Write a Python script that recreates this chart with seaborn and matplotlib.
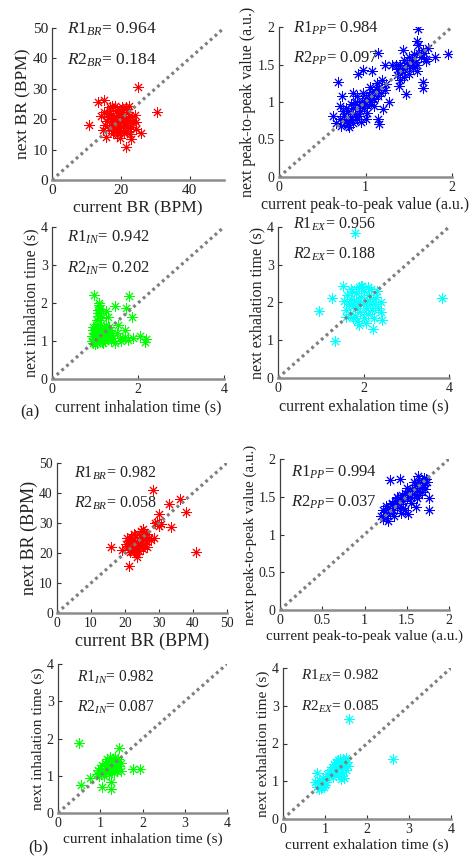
import matplotlib
matplotlib.use("Agg")
import matplotlib.pyplot as plt
import seaborn as sns

# ---------------- data: current vs next breath parameters ----------------
# (a) breathing rate
br_a_current = [10.8, 25.0, 30.4, 21.4, 26.0, 15.8, 13.4, 15.1, 14.1, 23.1, 24.3, 21.6,
                16.0, 16.5, 17.2, 17.8, 18.3, 18.9, 19.4, 19.9, 20.4, 21.0, 21.6, 22.3, 23.0,
                16.8, 17.5, 18.1, 18.7, 19.2, 19.8, 20.3, 20.8, 21.4, 22.0, 22.6, 15.5, 16.2,
                17.0, 17.7, 18.4, 19.0, 19.6, 20.2, 20.9, 21.5, 22.2, 23.4, 16.6, 18.0, 19.3,
                20.6, 21.9, 17.3, 18.8, 20.0, 21.2, 22.8, 24.0, 15.2, 19.0, 20.5, 17.6, 23.6,
                14.8, 22.5, 19.7, 24.5]
br_a_next = [18.1, 30.5, 22.5, 11.0, 15.4, 14.3, 25.5, 26.4, 21.2, 13.4, 16.7, 24.0,
             19.5, 22.0, 17.0, 21.5, 18.5, 23.0, 16.5, 20.0, 22.5, 15.5, 19.0, 21.0, 17.5,
             24.0, 19.0, 16.0, 20.5, 22.0, 18.0, 24.0, 17.0, 20.5, 22.5, 19.5, 18.0, 20.8,
             22.8, 15.5, 24.5, 18.8, 21.2, 15.8, 19.8, 23.2, 17.8, 20.8, 17.0, 20.0, 19.5,
             21.0, 16.2, 24.2, 14.8, 23.0, 18.2, 15.2, 21.5, 22.5, 17.2, 19.0, 18.2, 18.6,
             16.5, 24.2, 13.8, 19.0]

# (a) peak-to-peak value
pp_a_current = [1.61, 1.60, 1.61, 1.95, 1.15, 1.80, 1.70, 1.67, 1.66, 0.68, 0.97, 0.91, 1.08,
                1.43, 1.31, 1.23, 1.60, 1.47, 1.39, 1.16, 1.15, 1.27, 1.20, 1.00, 0.62, 0.73,
                0.81, 1.19,
                0.66, 0.70, 0.72, 0.75, 0.77, 0.80, 0.82, 0.84, 0.86, 0.88, 0.90, 0.92, 0.94,
                0.96, 0.98, 1.00, 1.02, 1.04, 1.06, 1.08, 1.10, 1.12, 1.14, 1.16, 1.18, 1.22,
                0.78, 0.85, 0.88, 0.93, 0.97, 1.02, 1.05, 1.10, 0.74, 0.83, 0.90, 0.99, 1.07,
                0.95, 0.86, 1.13, 0.70, 0.80, 1.24,
                1.36, 1.38, 1.40, 1.42, 1.44, 1.46, 1.48, 1.50, 1.52, 1.54, 1.56, 1.58, 1.62,
                1.64, 1.66, 1.68, 1.72, 1.45, 1.50, 1.40, 1.55, 1.35, 1.60, 1.70]
pp_a_next = [1.98, 1.82, 1.76, 1.64, 1.65, 1.60, 1.58, 1.27, 1.19, 1.27, 1.43, 1.37, 1.41,
             1.69, 1.49, 1.49, 1.42, 1.11, 1.22, 0.71, 0.78, 1.00, 0.91, 0.78, 0.82, 1.08,
             0.67, 1.29,
             0.72, 0.78, 0.68, 0.82, 0.74, 0.88, 0.76, 0.80, 0.92, 0.84, 0.78, 0.96, 0.88,
             1.02, 0.92, 1.06, 0.96, 1.10, 1.00, 1.14, 1.04, 1.18, 1.08, 1.20, 1.12, 1.16,
             0.92, 0.72, 1.00, 0.82, 1.12, 0.86, 1.20, 0.95, 0.88, 0.98, 1.08, 0.98, 1.06,
             0.74, 1.12, 1.26, 0.95, 0.70, 1.24,
             1.36, 1.44, 1.50, 1.40, 1.56, 1.46, 1.52, 1.60, 1.48, 1.56, 1.64, 1.54, 1.66,
             1.60, 1.70, 1.65, 1.72, 1.34, 1.38, 1.30, 1.45, 1.50, 1.50, 1.55]

# (a) inhalation time
in_a_current = [0.97, 1.79, 1.09, 1.46, 1.86, 1.73, 1.07, 1.11, 1.30, 1.26, 2.19, 2.16, 2.04,
                1.88, 1.77, 1.69, 1.57, 1.46, 1.53, 0.95, 1.05, 1.08, 1.12, 1.10, 1.06, 1.14,
                0.92, 0.94, 0.96, 0.98, 1.00, 1.02, 1.04, 1.06, 1.08, 1.10, 1.12, 1.14, 1.16,
                1.18, 1.20, 1.22, 1.24, 1.26, 1.28, 1.30, 1.33, 1.36, 1.38, 1.40, 0.95, 1.00,
                1.05, 1.15, 1.25, 1.35, 0.99, 1.09, 1.19, 1.29, 1.42, 1.50, 1.60, 1.70]
in_a_next = [2.22, 2.19, 2.01, 1.93, 1.63, 1.86, 1.82, 1.73, 1.64, 1.78, 1.05, 0.98, 1.12,
             1.07, 1.03, 1.29, 1.07, 0.96, 1.42, 1.29, 1.55, 1.65, 1.85, 1.95, 1.75, 1.60,
             1.00, 1.12, 0.94, 1.22, 1.05, 1.35, 0.96, 1.15, 1.28, 1.02, 1.40, 1.10, 0.98,
             1.22, 1.08, 1.32, 1.00, 1.16, 1.25, 1.05, 1.36, 1.12, 1.00, 1.22, 1.38, 1.18,
             1.45, 1.30, 1.42, 1.28, 0.92, 1.12, 0.95, 1.14, 1.08, 1.20, 1.00, 1.10]

# (a) exhalation time
ex_a_current = [1.79, 3.83, 0.96, 1.33, 1.27, 1.52, 2.22, 2.44, 1.89, 1.75, 1.97,
                1.55, 1.60, 1.62, 1.65, 1.68, 1.70, 1.72, 1.75, 1.78, 1.80, 1.82, 1.85, 1.88,
                1.90, 1.92, 1.95, 1.98, 2.00, 2.02, 2.05, 2.08, 2.10, 2.12, 2.15, 2.18, 2.20,
                2.22, 2.25, 2.28, 2.30, 2.35, 2.40, 2.42, 1.58, 1.85, 2.05, 1.95, 2.10, 1.70,
                2.32]
ex_a_next = [3.84, 2.11, 1.78, 0.97, 2.11, 2.44, 1.30, 1.54, 1.41, 1.58, 2.44,
             2.05, 1.80, 2.20, 1.95, 1.70, 2.10, 2.30, 1.90, 2.05, 1.65, 2.25, 1.85, 2.00,
             2.40, 1.75, 2.15, 1.95, 1.60, 2.30, 1.85, 2.05, 1.70, 2.20, 1.95, 2.35, 1.80,
             2.10, 1.60, 1.95, 2.15, 1.85, 2.00, 1.75, 1.62, 1.50, 1.45, 2.45, 2.40, 2.35,
             2.30]

# (b) breathing rate
br_b_current = [28.1, 40.9, 36.2, 37.8, 32.8, 30.1, 33.6, 28.8, 30.1, 28.6, 26.4, 25.4, 15.8,
                19.0, 21.3, 23.6, 29.5, 30.5,
                20.5, 20.8, 21.0, 21.2, 21.5, 21.8, 22.0, 22.2, 22.5, 22.8, 23.0, 23.2, 23.5,
                23.8, 24.0, 24.2, 24.5, 24.8, 25.0, 25.2, 25.5, 25.8, 26.0, 26.2, 26.5, 27.0,
                21.6, 22.6, 23.4, 24.6, 25.4, 20.2, 27.5]
br_b_next = [41.1, 20.4, 38.1, 33.7, 36.4, 33.0, 28.8, 29.9, 29.0, 25.1, 22.1, 27.9, 21.9,
             21.0, 15.6, 18.8, 30.5, 29.8,
             25.0, 22.5, 24.0, 21.0, 23.5, 25.5, 22.0, 24.5, 20.5, 23.0, 26.0, 21.5, 24.0,
             22.5, 25.0, 20.8, 23.5, 26.0, 22.5, 24.5, 27.0, 23.0, 25.5, 24.0, 26.5, 25.0,
             20.2, 26.5, 19.8, 27.5, 21.5, 23.0, 24.5]

# (b) peak-to-peak value
pp_b_current = [1.30, 1.42, 1.76, 1.61, 1.76, 1.52, 1.63, 1.73,
                1.20, 1.22, 1.24, 1.26, 1.28, 1.30, 1.32, 1.34, 1.36, 1.38, 1.40, 1.42, 1.44,
                1.46, 1.48, 1.50, 1.52, 1.54, 1.56, 1.58, 1.60, 1.62, 1.64, 1.66, 1.68, 1.70,
                1.72, 1.74, 1.25, 1.35, 1.45, 1.55, 1.65, 1.28, 1.38, 1.48, 1.58, 1.68, 1.50,
                1.22, 1.33, 1.43, 1.62, 1.70]
pp_b_next = [1.72, 1.73, 1.33, 1.37, 1.48, 1.27, 1.77, 1.73,
             1.25, 1.20, 1.30, 1.22, 1.35, 1.28, 1.40, 1.32, 1.45, 1.36, 1.48, 1.40, 1.52,
             1.44, 1.55, 1.48, 1.58, 1.50, 1.60, 1.54, 1.65, 1.58, 1.68, 1.62, 1.72, 1.66,
             1.60, 1.70, 1.38, 1.25, 1.35, 1.42, 1.52, 1.18, 1.50, 1.32, 1.70, 1.56, 1.62,
             1.32, 1.42, 1.28, 1.48, 1.75]

# (b) inhalation time
in_b_current = [0.50, 1.44, 1.78, 1.93, 1.26, 1.26, 1.03, 0.54, 0.75, 1.50,
                0.92, 0.95, 0.98, 1.00, 1.02, 1.05, 1.08, 1.10, 1.12, 1.14, 1.16, 1.18, 1.20,
                1.22, 1.24, 1.26, 1.28, 1.30, 1.32, 1.34, 1.36, 1.38, 1.40, 1.42, 1.45, 1.48,
                1.15, 1.25, 1.35, 1.05, 1.20, 1.30]
in_b_next = [1.89, 1.74, 1.18, 1.18, 0.64, 0.82, 0.71, 0.76, 0.94, 1.12,
             1.05, 1.15, 0.98, 1.20, 1.08, 1.28, 1.00, 1.15, 1.35, 1.10, 1.45, 1.22, 1.05,
             1.30, 1.50, 1.15, 1.38, 1.25, 1.08, 1.42, 1.20, 1.32, 1.12, 1.45, 1.25, 1.35,
             1.25, 1.40, 1.50, 1.12, 1.18, 1.45]

# (b) exhalation time
ex_b_current = [1.57, 2.61, 0.81, 0.75, 1.38,
                0.80, 0.85, 0.88, 0.90, 0.92, 0.95, 0.98, 1.00, 1.02, 0.86, 0.96,
                1.10, 1.12, 1.15, 1.18, 1.20, 1.22, 1.25, 1.28, 1.30, 1.32, 1.35, 1.38, 1.40,
                1.42, 1.44, 1.46, 1.48, 1.50, 1.52, 1.55, 1.40, 1.30, 1.20, 1.45, 1.05, 1.35,
                1.25, 1.50]
ex_b_next = [2.64, 1.58, 1.22, 0.99, 1.05,
             0.85, 0.80, 0.92, 0.82, 0.88, 0.95, 0.85, 0.90, 0.98, 1.02, 1.08,
             1.15, 1.30, 1.22, 1.38, 1.20, 1.45, 1.30, 1.48, 1.35, 1.55, 1.40, 1.25, 1.50,
             1.60, 1.35, 1.55, 1.45, 1.62, 1.50, 1.40, 1.15, 1.18, 1.10, 1.08, 1.18, 1.60,
             1.52, 1.30]

# correlation / error annotations
r_labels = {
    "br_a": ("0.964", "0.184"), "pp_a": ("0.984", "0.097"),
    "in_a": ("0.942", "0.202"), "ex_a": ("0.956", "0.188"),
    "br_b": ("0.982", "0.058"), "pp_b": ("0.994", "0.037"),
    "in_b": ("0.982", "0.087"), "ex_b": ("0.982", "0.085"),
}

# ---------------- style ----------------
sns.set_theme(style="white")
plt.rcParams["font.family"] = ["Liberation Serif", "DejaVu Serif"]
plt.rcParams["mathtext.fontset"] = "custom"
plt.rcParams["mathtext.rm"] = "Liberation Serif"
plt.rcParams["mathtext.it"] = "Liberation Serif:italic"
plt.rcParams["mathtext.bf"] = "Liberation Serif:bold"

RED, BLUE, GREEN, CYAN = "#ff0000", "#0000ff", "#00ff00", "#00ffff"
TXT = "#222222"
W, H = 476, 857

# panel boxes in pixels (left, top, right, bottom); fonts = (label, tick, annotation)
panels = [
    dict(key="br_a", x=br_a_current, y=br_a_next, color=RED, box=(52, 28, 224, 180),
         lim=50, xt=[0, 20, 40], xtl=["0", "20", "40"],
         yt=[0, 10, 20, 30, 40, 50], ytl=["0", "10", "20", "30", "40", "50"],
         xl="current BR (BPM)", yl="next BR (BPM)", sub="BR", tx=0.085, ty=(0.99, 0.79),
         fonts=(12.5, 11, 12.5)),
    dict(key="pp_a", x=pp_a_current, y=pp_a_next, color=BLUE, box=(279, 27, 452, 177),
         lim=2, xt=[0, 1, 2], xtl=["0", "1", "2"],
         yt=[0, 0.5, 1, 1.5, 2], ytl=["0", "0.5", "1", "1.5", "2"],
         xl="current peak-to-peak value (a.u.)", yl="next peak-to-peak value (a.u.)",
         sub="PP", tx=0.08, ty=(0.99, 0.79), fonts=(11.5, 10, 12)),
    dict(key="in_a", x=in_a_current, y=in_a_next, color=GREEN, box=(52, 227, 224, 379),
         lim=4, xt=[0, 2, 4], xtl=["0", "2", "4"],
         yt=[0, 1, 2, 3, 4], ytl=["0", "1", "2", "3", "4"],
         xl="current inhalation time (s)", yl="next inhalation time (s)",
         sub="IN", tx=0.085, ty=(0.93, 0.73), fonts=(11.5, 10, 12)),
    dict(key="ex_a", x=ex_a_current, y=ex_a_next, color=CYAN, box=(278, 227, 449, 378),
         lim=4, xt=[0, 2, 4], xtl=["0", "2", "4"],
         yt=[0, 1, 2, 3, 4], ytl=["0", "1", "2", "3", "4"],
         xl="current exhalation time (s)", yl="next exhalation time (s)",
         sub="EX", tx=0.088, ty=(1.02, 0.82), fonts=(11.6, 10, 11.5)),
    dict(key="br_b", x=br_b_current, y=br_b_next, color=RED, box=(57, 463, 227, 613),
         lim=50, xt=[0, 10, 20, 30, 40, 50], xtl=["0", "10", "20", "30", "40", "50"],
         yt=[0, 10, 20, 30, 40, 50], ytl=["0", "10", "20", "30", "40", "50"],
         xl="current BR (BPM)", yl="next BR (BPM)", sub="BR", tx=0.10, ty=(0.93, 0.73),
         fonts=(13, 9.8, 11.5)),
    dict(key="pp_b", x=pp_b_current, y=pp_b_next, color=BLUE, box=(280, 459, 449, 610),
         lim=2, xt=[0, 0.5, 1, 1.5, 2], xtl=["0", "0.5", "1", "1.5", "2"],
         yt=[0, 0.5, 1, 1.5, 2], ytl=["0", "0.5", "1", "1.5", "2"],
         xl="current peak-to-peak value (a.u.)", yl="next peak-to-peak value (a.u.)",
         sub="PP", tx=0.065, ty=(0.91, 0.71), fonts=(10.8, 10, 12)),
    dict(key="in_b", x=in_b_current, y=in_b_next, color=GREEN, box=(58, 664, 227, 813),
         lim=4, xt=[0, 1, 2, 3, 4], xtl=["0", "1", "2", "3", "4"],
         yt=[0, 1, 2, 3, 4], ytl=["0", "1", "2", "3", "4"],
         xl="current inhalation time (s)", yl="next inhalation time (s)",
         sub="IN", tx=0.11, ty=(0.91, 0.71), fonts=(11, 10, 11.2)),
    dict(key="ex_b", x=ex_b_current, y=ex_b_next, color=CYAN, box=(283, 668, 451, 819),
         lim=4, xt=[0, 1, 2, 3, 4], xtl=["0", "1", "2", "3", "4"],
         yt=[0, 1, 2, 3, 4], ytl=["0", "1", "2", "3", "4"],
         xl="current exhalation time (s)", yl="next exhalation time (s)",
         sub="EX", tx=0.107, ty=(0.95, 0.74), fonts=(11.1, 10, 11)),
]

fig = plt.figure(figsize=(W / 100, H / 100), dpi=100)

for p in panels:
    l, t, r, b = p["box"]
    fl, ft, fa = p["fonts"]
    ax = fig.add_axes([l / W, 1 - b / H, (r - l) / W, (b - t) / H])
    sns.scatterplot(x=p["x"], y=p["y"], ax=ax, marker=(8, 2, 0), s=46,
                    color=p["color"], linewidth=0.7, legend=False, zorder=2)
    lim = p["lim"]
    # identity reference line
    ax.plot([0, lim], [0, lim], linestyle=(0, (0.9, 1.1)), linewidth=2.3,
            color="#7f7f7f", zorder=3)
    ax.set_xlim(0, lim)
    ax.set_ylim(0, lim)
    ax.set_xticks(p["xt"])
    ax.set_xticklabels(p["xtl"])
    ax.set_yticks(p["yt"])
    ax.set_yticklabels(p["ytl"])
    ax.set_xlabel(p["xl"], fontsize=fl, labelpad=2, color=TXT)
    ax.set_ylabel(p["yl"], fontsize=fl, labelpad=1, color=TXT)
    ax.tick_params(direction="in", length=3, width=0.8, labelsize=ft,
                   bottom=True, left=True, colors="#333333", labelcolor=TXT, pad=3)
    sns.despine(ax=ax)
    ax.spines["left"].set_color("#404040")
    ax.spines["left"].set_linewidth(0.9)
    ax.spines["bottom"].set_color("#8c8c8c")
    ax.spines["bottom"].set_linewidth(1.8)
    r1, r2 = r_labels[p["key"]]
    sub = p["sub"]
    ax.text(p["tx"], p["ty"][0], r"$\mathit{R1}_{\mathit{%s}}$= %s" % (sub, r1),
            transform=ax.transAxes, va="center", ha="left", fontsize=fa, color=TXT,
            zorder=5)
    ax.text(p["tx"], p["ty"][1], r"$\mathit{R2}_{\mathit{%s}}$= %s" % (sub, r2),
            transform=ax.transAxes, va="center", ha="left", fontsize=fa, color=TXT,
            zorder=5)

fig.text(20 / W, 1 - 412 / H, "(a)", fontsize=12.5, va="center", ha="left", color=TXT)
fig.text(28 / W, 1 - 847 / H, "(b)", fontsize=12.5, va="center", ha="left", color=TXT)

fig.savefig("out.png", dpi=100)
